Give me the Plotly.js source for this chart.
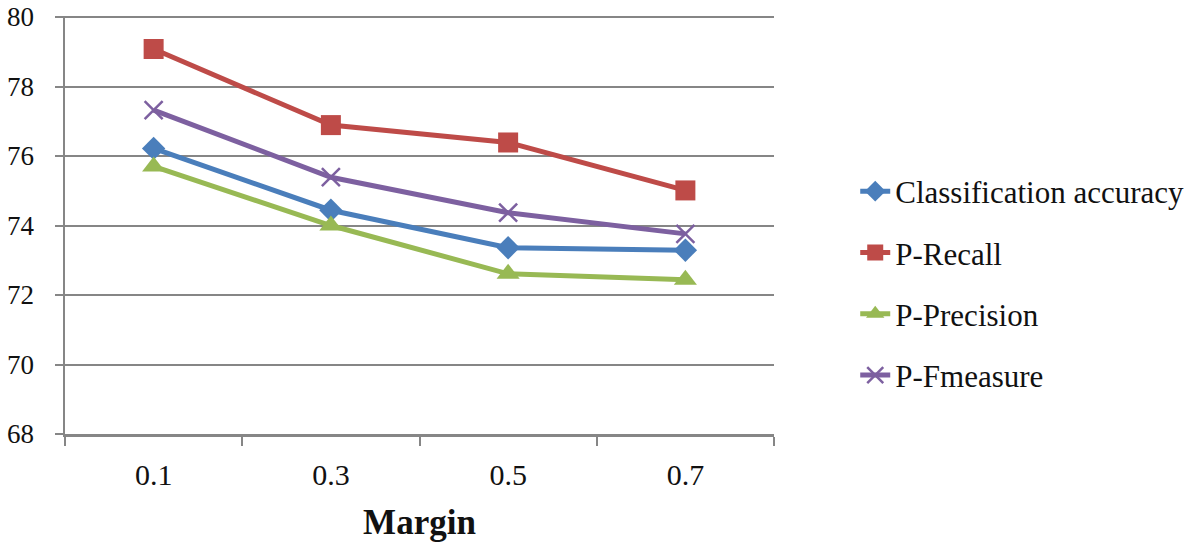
<!DOCTYPE html>
<html><head><meta charset="utf-8">
<script src="https://cdn.plot.ly/plotly-3.0.1.min.js"></script>
<style>html,body{margin:0;padding:0;background:#fff}#chart{width:1200px;height:549px}</style>
</head><body><div id="chart"></div>
<script>
const categories = ["0.1", "0.3", "0.5", "0.7"];
const seriesNames = ["Classification accuracy", "P-Recall", "P-Precision", "P-Fmeasure"];
const accuracy = [76.22, 74.44, 73.36, 73.29];
const recall = [79.08, 76.89, 76.39, 75.01];
const precision = [75.70, 74.00, 72.61, 72.44];
const fmeasure = [77.32, 75.39, 74.37, 73.76];
const yTicks = [68, 70, 72, 74, 76, 78, 80];

const colors = ["#4a7ebb", "#be4b48", "#98b954", "#7d60a0"];
const symbols = ["diamond", "square", "triangle-up", "x-thin-open"];
const sizes = [18, 20, 20, 18];
const values = [accuracy, recall, precision, fmeasure];

const traces = values.map((v, i) => ({
  x: categories, y: v, name: seriesNames[i], type: "scatter", mode: "lines+markers",
  legendgroup: "g" + i,
  line: {color: colors[i], width: 5},
  marker: {symbol: symbols[i], size: sizes[i], color: colors[i],
           line: {color: colors[i], width: i === 3 ? 2.5 : 0}}
}));

const serif = "Liberation Serif, DejaVu Serif, serif";
const layout = {
  width: 1200, height: 549,
  margin: {l: 65, r: 425, t: 16, b: 115},
  paper_bgcolor: "#fff", plot_bgcolor: "#fff",
  showlegend: true,
  legend: {x: 1.113, y: 0.36, yanchor: "middle", xanchor: "left",
           font: {family: serif, size: 31, color: "#111"},
           tracegroupgap: 18, itemwidth: 30},
  xaxis: {type: "category", range: [-0.5, 3.5], tickson: "boundaries",
          ticks: "outside", ticklen: 9, tickwidth: 2, tickcolor: "#868686",
          showline: true, linecolor: "#868686", linewidth: 2.5,
          showgrid: false, zeroline: false, ticklabelstandoff: 12,
          tickfont: {family: serif, size: 30, color: "#111"},
          title: {text: "<b>Margin</b>", font: {family: serif, size: 35, color: "#111"}, standoff: 20}},
  yaxis: {range: [68, 80.03], tickvals: yTicks, ticktext: yTicks.map(String),
          ticks: "outside", ticklen: 8, tickwidth: 2, tickcolor: "#868686",
          showline: true, linecolor: "#868686", linewidth: 2.5,
          showgrid: true, gridcolor: "#868686", gridwidth: 2,
          zeroline: false, ticklabelstandoff: 15, ticklabeloverflow: "allow",
          tickfont: {family: serif, size: 27, color: "#111"}}
};
Plotly.newPlot("chart", traces, layout, {displayModeBar: false, staticPlot: true});
</script></body></html>
